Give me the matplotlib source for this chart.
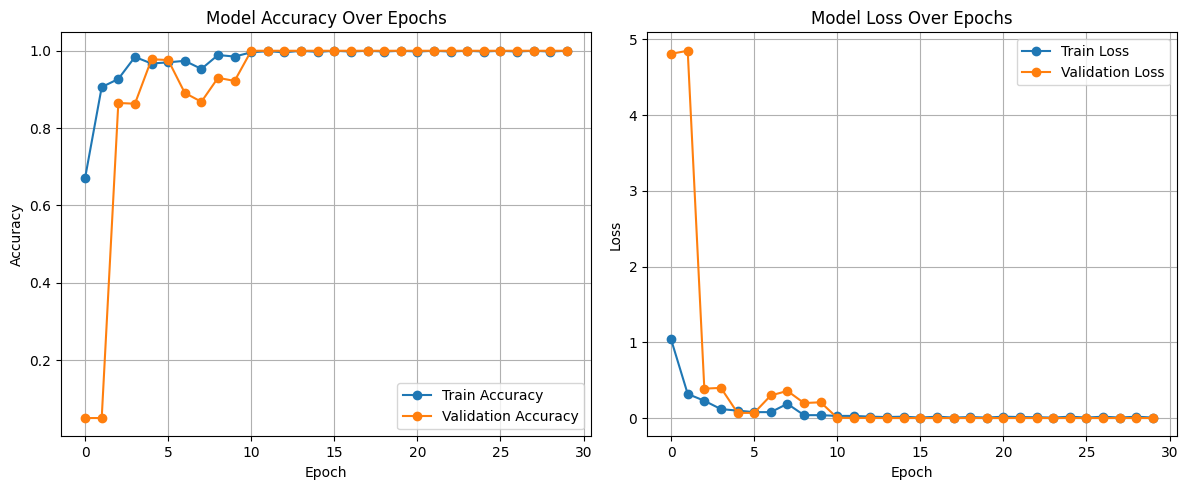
import numpy as np
import matplotlib.pyplot as plt

epochs = np.arange(30)
train_acc = [0.671, 0.906, 0.927, 0.984, 0.967, 0.970, 0.974, 0.953, 0.989, 0.985,
             0.996, 0.999, 0.996, 1.0, 0.997, 1.0, 0.998, 1.0, 0.998, 1.0,
             0.998, 1.0, 0.998, 1.0, 0.998, 1.0, 0.998, 1.0, 0.998, 1.0]
val_acc = [0.05, 0.05, 0.865, 0.863, 0.978, 0.976, 0.891, 0.868, 0.930, 0.922,
           1.0, 1.0, 1.0, 1.0, 1.0, 1.0, 1.0, 1.0, 1.0, 1.0,
           1.0, 1.0, 1.0, 1.0, 1.0, 1.0, 1.0, 1.0, 1.0, 1.0]
train_loss = [1.04, 0.32, 0.23, 0.12, 0.10, 0.08, 0.08, 0.19, 0.04, 0.04,
              0.03, 0.03, 0.02, 0.015, 0.02, 0.008, 0.02, 0.008, 0.015, 0.008,
              0.02, 0.015, 0.012, 0.008, 0.02, 0.008, 0.02, 0.008, 0.02, 0.008]
val_loss = [4.81, 4.85, 0.39, 0.40, 0.07, 0.07, 0.30, 0.36, 0.20, 0.21,
            0.005, 0.003, 0.003, 0.002, 0.002, 0.002, 0.002, 0.002, 0.002, 0.002,
            0.002, 0.002, 0.002, 0.002, 0.002, 0.002, 0.002, 0.002, 0.002, 0.002]

plt.figure(figsize=(11.88, 4.9), dpi=100)

plt.subplot(1, 2, 1)
plt.plot(epochs, train_acc, marker='o', label='Train Accuracy')
plt.plot(epochs, val_acc, marker='o', label='Validation Accuracy')
plt.title('Model Accuracy Over Epochs')
plt.xlabel('Epoch')
plt.ylabel('Accuracy')
plt.legend(loc='lower right')
plt.grid(True)

plt.subplot(1, 2, 2)
plt.plot(epochs, train_loss, marker='o', label='Train Loss')
plt.plot(epochs, val_loss, marker='o', label='Validation Loss')
plt.title('Model Loss Over Epochs')
plt.xlabel('Epoch')
plt.ylabel('Loss')
plt.legend(loc='upper right')
plt.grid(True)

plt.subplots_adjust(left=61/1188, right=1177/1188, bottom=53.6/490, top=457.6/490, wspace=56/530)
plt.savefig('out.png')
